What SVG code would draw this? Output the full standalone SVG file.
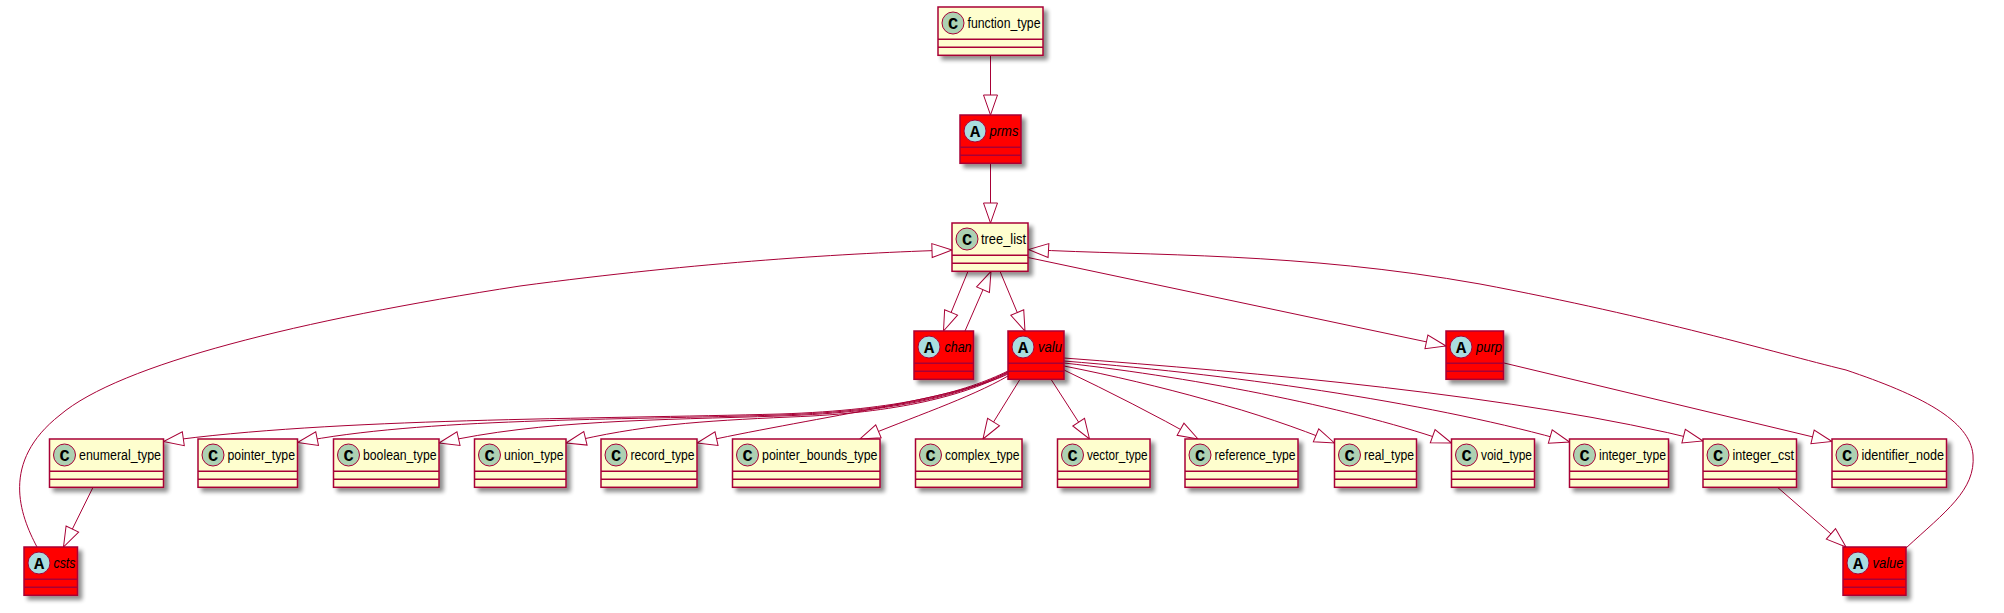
<svg xmlns="http://www.w3.org/2000/svg" width="2004" height="613" viewBox="0 0 2004 613">
<defs>
<filter id="sh" x="-20%" y="-20%" width="150%" height="150%">
<feGaussianBlur in="SourceAlpha" stdDeviation="2" result="b"/>
<feOffset in="b" dx="4" dy="4" result="o"/>
<feComponentTransfer in="o" result="s"><feFuncA type="linear" slope="0.45"/></feComponentTransfer>
<feMerge><feMergeNode in="s"/><feMergeNode in="SourceGraphic"/></feMerge>
</filter>
<marker id="tri" markerUnits="userSpaceOnUse" viewBox="-21 -9 23 18" markerWidth="23" markerHeight="18" refX="0" refY="0" orient="auto" overflow="visible">
<path d="M0,0 L-20,-7 L-20,7 Z" fill="#FFFFFF" stroke="#A80036" stroke-width="1"/>
</marker>
<style>
.cls{fill:#FEFECE;stroke:#A80036;stroke-width:1.5;filter:url(#sh)}
.abs{fill:#FF0000;stroke:#A80036;stroke-width:1.5;filter:url(#sh)}
.sep{stroke:#A80036;stroke-width:1.5}
.cc{fill:#ADD1B2;stroke:#A80036;stroke-width:1}
.ac{fill:#A9DCDF;stroke:#A80036;stroke-width:1}
.gl{font-family:"Liberation Mono","DejaVu Sans Mono",monospace;font-weight:bold;font-size:17px;text-anchor:middle;fill:#000}
.nm{font-family:"Liberation Sans",Arial,sans-serif;font-size:14px;fill:#000}
.it{font-style:italic}
.e{fill:none;stroke:#A80036;stroke-width:1;marker-end:url(#tri)}
</style>
</defs>
<rect width="2004" height="613" fill="#FFFFFF"/>

<g id="connectors">
<path class="e" d="M990.5,55.3 L990.5,115"/>
<path class="e" d="M990.5,163.3 L990.5,223"/>
<path class="e" d="M968,271.3 L943.5,331"/>
<path class="e" d="M965,331 L991,271.3"/>
<path class="e" d="M1000,271.3 L1025,331"/>
<path class="e" d="M1028,257.5 L1446,346"/>
<path class="e" d="M37,547 C20,515 0,462 60,415 C120,364 300,320 520,286 C700,262 850,253 952,250"/>
<path class="e" d="M1906,548 C1945,512 1976,490 1973,455 C1970,420 1920,395 1846,370 C1772,352 1660,318 1480,284 C1300,252 1150,256 1028.5,249.5"/>
<path class="e" d="M93,487.3 L63.5,547"/>
<path class="e" d="M1777.5,487.3 L1846,547"/>
<path class="e" d="M1504,363 L1832,441.5"/>
<path class="e" d="M1008,371 C965,392 900,410 780,414 C600,419 330,418 163.5,441.5"/>
<path class="e" d="M1008,372 C965,393 900,411 780,415 C620,420 420,418 297.5,442.5"/>
<path class="e" d="M1008,372 C965,394 900,412 780,416 C660,420 540,420 439,443"/>
<path class="e" d="M1008,373 C965,395 900,413 790,417 C700,421 640,425 566,443"/>
<path class="e" d="M1008,374 C960,398 800,420 697,443"/>
<path class="e" d="M1008,376 C970,398 910,418 860,439"/>
<path class="e" d="M1020,379.3 L983,439"/>
<path class="e" d="M1051,379.3 L1089.5,439"/>
<path class="e" d="M1064,370 C1110,392 1155,415 1198,439"/>
<path class="e" d="M1064,366 C1160,385 1260,412 1334.5,443"/>
<path class="e" d="M1064,363 C1200,378 1360,410 1451.5,443"/>
<path class="e" d="M1064,361 C1250,376 1440,405 1569.5,442"/>
<path class="e" d="M1064,358 C1250,372 1520,395 1703,441"/>
</g>

<g id="function_type">
<rect class="cls" x="938" y="7" width="105" height="48.3"/>
<circle class="cc" cx="953" cy="23" r="11"/><text class="gl" x="953" y="29">C</text>
<text class="nm" x="967.5" y="28" textLength="73" lengthAdjust="spacingAndGlyphs">function_type</text>
<line class="sep" x1="938" y1="39.3" x2="1043" y2="39.3"/><line class="sep" x1="938" y1="47.3" x2="1043" y2="47.3"/>
</g>

<g id="prms">
<rect class="abs" x="960" y="115" width="61" height="48.3"/>
<circle class="ac" cx="975" cy="131" r="11"/><text class="gl" x="975" y="137">A</text>
<text class="nm it" x="989.5" y="136" textLength="29" lengthAdjust="spacingAndGlyphs">prms</text>
<line class="sep" x1="960" y1="147.3" x2="1021" y2="147.3"/><line class="sep" x1="960" y1="155.3" x2="1021" y2="155.3"/>
</g>

<g id="tree_list">
<rect class="cls" x="952" y="223" width="76" height="48.3"/>
<circle class="cc" cx="967" cy="239" r="11"/><text class="gl" x="967" y="245">C</text>
<text class="nm" x="981" y="244" textLength="45" lengthAdjust="spacingAndGlyphs">tree_list</text>
<line class="sep" x1="952" y1="255.3" x2="1028" y2="255.3"/><line class="sep" x1="952" y1="263.3" x2="1028" y2="263.3"/>
</g>

<g id="chan">
<rect class="abs" x="914" y="331" width="59.5" height="48.3"/>
<circle class="ac" cx="929" cy="347" r="11"/><text class="gl" x="929" y="353">A</text>
<text class="nm it" x="944.5" y="352" textLength="27" lengthAdjust="spacingAndGlyphs">chan</text>
<line class="sep" x1="914" y1="363.3" x2="973.5" y2="363.3"/><line class="sep" x1="914" y1="371.3" x2="973.5" y2="371.3"/>
</g>

<g id="valu">
<rect class="abs" x="1008" y="331" width="56" height="48.3"/>
<circle class="ac" cx="1023" cy="347" r="11"/><text class="gl" x="1023" y="353">A</text>
<text class="nm it" x="1038" y="352" textLength="24" lengthAdjust="spacingAndGlyphs">valu</text>
<line class="sep" x1="1008" y1="363.3" x2="1064" y2="363.3"/><line class="sep" x1="1008" y1="371.3" x2="1064" y2="371.3"/>
</g>

<g id="purp">
<rect class="abs" x="1446" y="331" width="57.5" height="48.3"/>
<circle class="ac" cx="1461" cy="347" r="11"/><text class="gl" x="1461" y="353">A</text>
<text class="nm it" x="1476" y="352" textLength="26" lengthAdjust="spacingAndGlyphs">purp</text>
<line class="sep" x1="1446" y1="363.3" x2="1503.5" y2="363.3"/><line class="sep" x1="1446" y1="371.3" x2="1503.5" y2="371.3"/>
</g>

<g id="enumeral_type">
<rect class="cls" x="49.5" y="439" width="114" height="48.3"/>
<circle class="cc" cx="64.5" cy="455" r="11"/><text class="gl" x="64.5" y="461">C</text>
<text class="nm" x="79" y="460" textLength="82" lengthAdjust="spacingAndGlyphs">enumeral_type</text>
<line class="sep" x1="49.5" y1="471.3" x2="163.5" y2="471.3"/><line class="sep" x1="49.5" y1="479.3" x2="163.5" y2="479.3"/>
</g>

<g id="pointer_type">
<rect class="cls" x="198" y="439" width="99.5" height="48.3"/>
<circle class="cc" cx="213" cy="455" r="11"/><text class="gl" x="213" y="461">C</text>
<text class="nm" x="227.5" y="460" textLength="67.5" lengthAdjust="spacingAndGlyphs">pointer_type</text>
<line class="sep" x1="198" y1="471.3" x2="297.5" y2="471.3"/><line class="sep" x1="198" y1="479.3" x2="297.5" y2="479.3"/>
</g>

<g id="boolean_type">
<rect class="cls" x="333.5" y="439" width="105.5" height="48.3"/>
<circle class="cc" cx="348.5" cy="455" r="11"/><text class="gl" x="348.5" y="461">C</text>
<text class="nm" x="363" y="460" textLength="73.5" lengthAdjust="spacingAndGlyphs">boolean_type</text>
<line class="sep" x1="333.5" y1="471.3" x2="439" y2="471.3"/><line class="sep" x1="333.5" y1="479.3" x2="439" y2="479.3"/>
</g>

<g id="union_type">
<rect class="cls" x="474.5" y="439" width="91.5" height="48.3"/>
<circle class="cc" cx="489.5" cy="455" r="11"/><text class="gl" x="489.5" y="461">C</text>
<text class="nm" x="504" y="460" textLength="59.5" lengthAdjust="spacingAndGlyphs">union_type</text>
<line class="sep" x1="474.5" y1="471.3" x2="566" y2="471.3"/><line class="sep" x1="474.5" y1="479.3" x2="566" y2="479.3"/>
</g>

<g id="record_type">
<rect class="cls" x="601" y="439" width="96" height="48.3"/>
<circle class="cc" cx="616" cy="455" r="11"/><text class="gl" x="616" y="461">C</text>
<text class="nm" x="630.5" y="460" textLength="64" lengthAdjust="spacingAndGlyphs">record_type</text>
<line class="sep" x1="601" y1="471.3" x2="697" y2="471.3"/><line class="sep" x1="601" y1="479.3" x2="697" y2="479.3"/>
</g>

<g id="pointer_bounds_type">
<rect class="cls" x="732.5" y="439" width="147.5" height="48.3"/>
<circle class="cc" cx="747.5" cy="455" r="11"/><text class="gl" x="747.5" y="461">C</text>
<text class="nm" x="762" y="460" textLength="115.5" lengthAdjust="spacingAndGlyphs">pointer_bounds_type</text>
<line class="sep" x1="732.5" y1="471.3" x2="880" y2="471.3"/><line class="sep" x1="732.5" y1="479.3" x2="880" y2="479.3"/>
</g>

<g id="complex_type">
<rect class="cls" x="915.5" y="439" width="106.5" height="48.3"/>
<circle class="cc" cx="930.5" cy="455" r="11"/><text class="gl" x="930.5" y="461">C</text>
<text class="nm" x="945" y="460" textLength="74.5" lengthAdjust="spacingAndGlyphs">complex_type</text>
<line class="sep" x1="915.5" y1="471.3" x2="1022" y2="471.3"/><line class="sep" x1="915.5" y1="479.3" x2="1022" y2="479.3"/>
</g>

<g id="vector_type">
<rect class="cls" x="1057.5" y="439" width="92.5" height="48.3"/>
<circle class="cc" cx="1072.5" cy="455" r="11"/><text class="gl" x="1072.5" y="461">C</text>
<text class="nm" x="1087" y="460" textLength="60.5" lengthAdjust="spacingAndGlyphs">vector_type</text>
<line class="sep" x1="1057.5" y1="471.3" x2="1150" y2="471.3"/><line class="sep" x1="1057.5" y1="479.3" x2="1150" y2="479.3"/>
</g>

<g id="reference_type">
<rect class="cls" x="1185" y="439" width="113" height="48.3"/>
<circle class="cc" cx="1200" cy="455" r="11"/><text class="gl" x="1200" y="461">C</text>
<text class="nm" x="1214.5" y="460" textLength="81" lengthAdjust="spacingAndGlyphs">reference_type</text>
<line class="sep" x1="1185" y1="471.3" x2="1298" y2="471.3"/><line class="sep" x1="1185" y1="479.3" x2="1298" y2="479.3"/>
</g>

<g id="real_type">
<rect class="cls" x="1334.5" y="439" width="82" height="48.3"/>
<circle class="cc" cx="1349.5" cy="455" r="11"/><text class="gl" x="1349.5" y="461">C</text>
<text class="nm" x="1364" y="460" textLength="50" lengthAdjust="spacingAndGlyphs">real_type</text>
<line class="sep" x1="1334.5" y1="471.3" x2="1416.5" y2="471.3"/><line class="sep" x1="1334.5" y1="479.3" x2="1416.5" y2="479.3"/>
</g>

<g id="void_type">
<rect class="cls" x="1451.5" y="439" width="83" height="48.3"/>
<circle class="cc" cx="1466.5" cy="455" r="11"/><text class="gl" x="1466.5" y="461">C</text>
<text class="nm" x="1481" y="460" textLength="51" lengthAdjust="spacingAndGlyphs">void_type</text>
<line class="sep" x1="1451.5" y1="471.3" x2="1534.5" y2="471.3"/><line class="sep" x1="1451.5" y1="479.3" x2="1534.5" y2="479.3"/>
</g>

<g id="integer_type">
<rect class="cls" x="1569.5" y="439" width="99" height="48.3"/>
<circle class="cc" cx="1584.5" cy="455" r="11"/><text class="gl" x="1584.5" y="461">C</text>
<text class="nm" x="1599" y="460" textLength="67" lengthAdjust="spacingAndGlyphs">integer_type</text>
<line class="sep" x1="1569.5" y1="471.3" x2="1668.5" y2="471.3"/><line class="sep" x1="1569.5" y1="479.3" x2="1668.5" y2="479.3"/>
</g>

<g id="integer_cst">
<rect class="cls" x="1703" y="439" width="93.5" height="48.3"/>
<circle class="cc" cx="1718" cy="455" r="11"/><text class="gl" x="1718" y="461">C</text>
<text class="nm" x="1732.5" y="460" textLength="61.5" lengthAdjust="spacingAndGlyphs">integer_cst</text>
<line class="sep" x1="1703" y1="471.3" x2="1796.5" y2="471.3"/><line class="sep" x1="1703" y1="479.3" x2="1796.5" y2="479.3"/>
</g>

<g id="identifier_node">
<rect class="cls" x="1832" y="439" width="114.5" height="48.3"/>
<circle class="cc" cx="1847" cy="455" r="11"/><text class="gl" x="1847" y="461">C</text>
<text class="nm" x="1861.5" y="460" textLength="82.5" lengthAdjust="spacingAndGlyphs">identifier_node</text>
<line class="sep" x1="1832" y1="471.3" x2="1946.5" y2="471.3"/><line class="sep" x1="1832" y1="479.3" x2="1946.5" y2="479.3"/>
</g>

<g id="csts">
<rect class="abs" x="24" y="547" width="53.5" height="48.3"/>
<circle class="ac" cx="39" cy="563" r="11"/><text class="gl" x="39" y="569">A</text>
<text class="nm it" x="53.5" y="568" textLength="22" lengthAdjust="spacingAndGlyphs">csts</text>
<line class="sep" x1="24" y1="579.3" x2="77.5" y2="579.3"/><line class="sep" x1="24" y1="587.3" x2="77.5" y2="587.3"/>
</g>

<g id="value">
<rect class="abs" x="1843" y="547" width="63" height="48.3"/>
<circle class="ac" cx="1858" cy="563" r="11"/><text class="gl" x="1858" y="569">A</text>
<text class="nm it" x="1872.5" y="568" textLength="31" lengthAdjust="spacingAndGlyphs">value</text>
<line class="sep" x1="1843" y1="579.3" x2="1906" y2="579.3"/><line class="sep" x1="1843" y1="587.3" x2="1906" y2="587.3"/>
</g>
</svg>
